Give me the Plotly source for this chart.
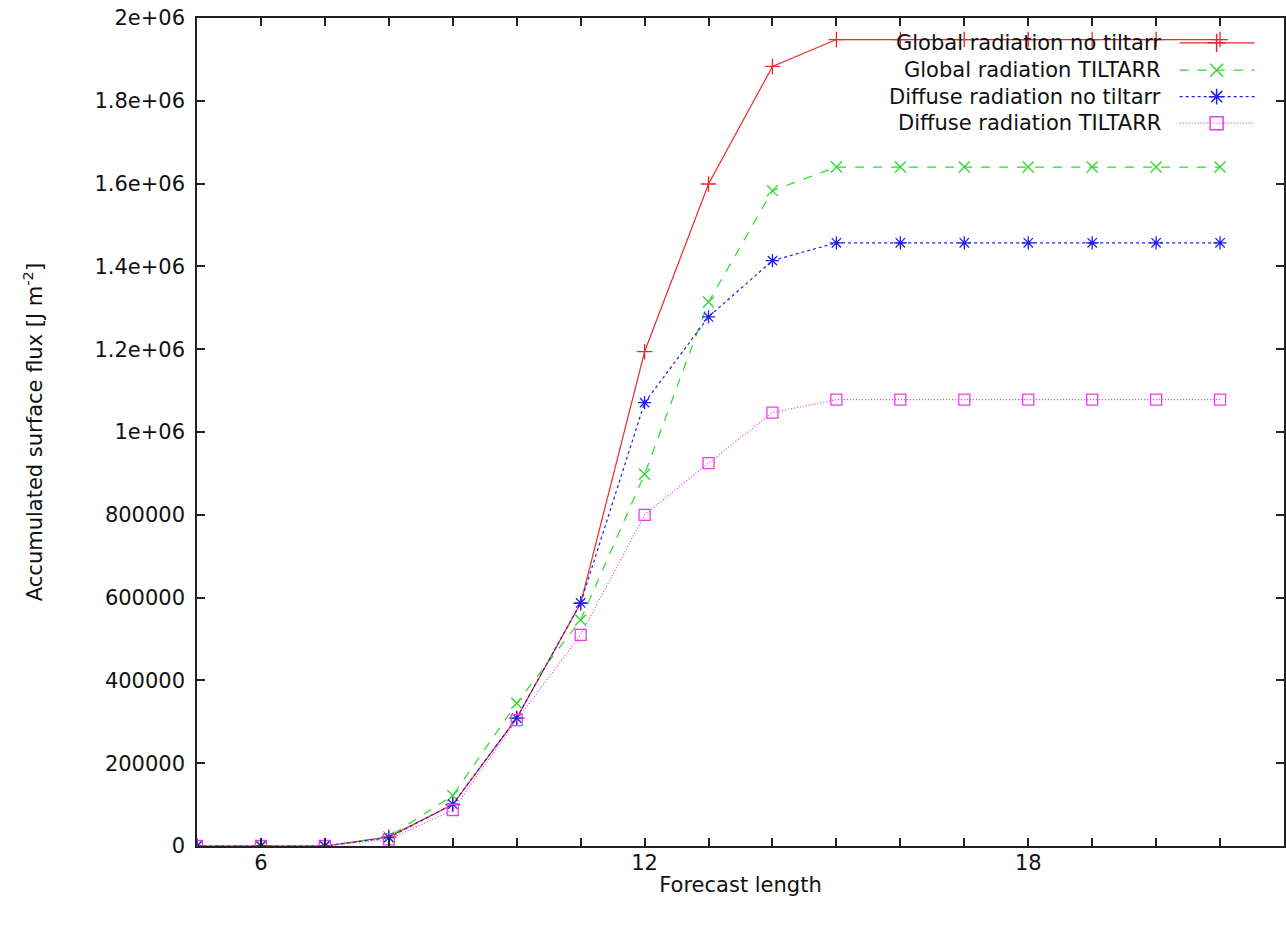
import plotly.graph_objects as go

hours = list(range(5, 22))
global_no_tilt = [0, 0, 0, 22000, 100000, 309000, 586000, 1194000, 1599000, 1883000,
                  1948000, 1948000, 1948000, 1948000, 1948000, 1948000, 1948000]
global_tiltarr = [0, 0, 0, 22000, 122000, 345000, 546000, 898000, 1314000, 1583000,
                  1640000, 1640000, 1640000, 1640000, 1640000, 1640000, 1640000]
diffuse_no_tilt = [0, 0, 0, 20000, 101000, 309000, 587000, 1071000, 1278000, 1414000,
                   1457000, 1457000, 1457000, 1457000, 1457000, 1457000, 1457000]
diffuse_tiltarr = [0, 0, 0, 16000, 87000, 304000, 510000, 800000, 925000, 1047000,
                   1078000, 1078000, 1078000, 1078000, 1078000, 1078000, 1078000]

series_names = ["Global radiation no tiltarr", "Global radiation TILTARR",
                "Diffuse radiation no tiltarr", "Diffuse radiation TILTARR"]
series_values = [global_no_tilt, global_tiltarr, diffuse_no_tilt, diffuse_tiltarr]
colors = ["rgb(235,40,40)", "rgb(40,220,40)", "rgb(30,30,235)", "rgb(235,60,235)"]
dashes = ["solid", "dash", "dot", "1px,2px"]
symbols = ["cross-thin-open", "x-thin-open", "asterisk-open", "square-open"]
sizes = [11, 11, 11, 11]

x_ticks = list(range(5, 23))
x_ticktext = [str(v) if v in (6, 12, 18) else "" for v in x_ticks]
y_ticks = [0, 200000, 400000, 600000, 800000, 1000000, 1200000, 1400000, 1600000, 1800000, 2000000]
y_ticktext = ["0", "200000", "400000", "600000", "800000", "1e+06", "1.2e+06",
              "1.4e+06", "1.6e+06", "1.8e+06", "2e+06"]

# legend layout (fractions of plot area)
leg_rows = [0.970, 0.937, 0.905, 0.873]
leg_line = [0.904, 0.973]
leg_mark = 0.938
leg_text_x = 0.889

FONT = "DejaVu Sans, Liberation Sans, Arial, sans-serif"
FS = 21

fig = go.Figure()
for name, vals, c, d, s, sz in zip(series_names, series_values, colors, dashes, symbols, sizes):
    fig.add_trace(go.Scatter(
        x=hours, y=vals, mode="lines+markers", name=name, showlegend=False,
        line=dict(color=c, width=1.2, dash=d),
        marker=dict(symbol=s, size=sz, color=c, line=dict(color=c, width=1.3)),
    ))

# legend samples on an overlay axis
for name, c, d, s, sz, ry in zip(series_names, colors, dashes, symbols, sizes, leg_rows):
    fig.add_trace(go.Scatter(
        x=leg_line, y=[ry, ry], mode="lines", xaxis="x2", yaxis="y2", showlegend=False,
        line=dict(color=c, width=1.2, dash=d), hoverinfo="skip",
    ))
    fig.add_trace(go.Scatter(
        x=[leg_mark], y=[ry], mode="markers", xaxis="x2", yaxis="y2", showlegend=False,
        marker=dict(symbol=s, size=sz + 2, color=c, line=dict(color=c, width=1.5)), hoverinfo="skip",
    ))
    fig.add_annotation(
        x=leg_text_x, y=ry, xref="x2", yref="y2", text=name, showarrow=False,
        xanchor="right", yanchor="middle", font=dict(family=FONT, size=FS, color="#111"),
    )

fig.update_layout(
    width=1286, height=925,
    margin=dict(l=197, r=2, t=18, b=79, autoexpand=False),
    paper_bgcolor="white", plot_bgcolor="white",
    font=dict(family=FONT, size=FS, color="#111"),
    xaxis=dict(
        range=[5, 22], tickvals=x_ticks, ticktext=x_ticktext, automargin=False,
        ticks="inside", ticklen=8, tickwidth=1.5, tickcolor="#222",
        showline=True, linecolor="#222", linewidth=1.5, mirror="allticks",
        showgrid=False, zeroline=False, ticklabelstandoff=-3,
        tickfont=dict(family=FONT, size=FS),
        title=dict(text="Forecast length", standoff=3, font=dict(family=FONT, size=FS)),
    ),
    yaxis=dict(
        range=[0, 2000000], tickvals=y_ticks, ticktext=y_ticktext, automargin=False,
        ticks="inside", ticklen=8, tickwidth=1.5, tickcolor="#222",
        showline=True, linecolor="#222", linewidth=1.5, mirror="allticks",
        showgrid=False, zeroline=False, ticklabelstandoff=6, ticklabeloverflow="allow",
        tickfont=dict(family=FONT, size=FS),
        title=dict(text="Accumulated surface flux [J m<sup>-2</sup>]", standoff=46,
                   font=dict(family=FONT, size=FS)),
    ),
    xaxis2=dict(range=[0, 1], overlaying="x", visible=False, fixedrange=True),
    yaxis2=dict(range=[0, 1], overlaying="y", visible=False, fixedrange=True),
)

# remove the page's default body margin so the figure fills the window exactly
fig.write_html("out.html", config={"displayModeBar": False},
               post_script="document.body.style.margin='0';")
